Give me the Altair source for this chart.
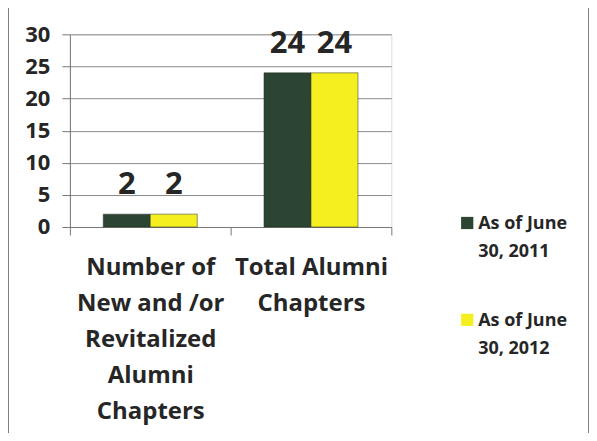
import altair as alt
import pandas as pd

categories = ["Number of|New and /or|Revitalized|Alumni|Chapters", "Total Alumni|Chapters"]
series = ["As of June|30, 2011", "As of  June|30, 2012"]
values_2011 = [2, 24]
values_2012 = [2, 24]
colors = ["#2c4533", "#f5ef1f"]

rows = []
for c, v1, v2 in zip(categories, values_2011, values_2012):
    rows.append({"category": c, "series": series[0], "value": v1})
    rows.append({"category": c, "series": series[1], "value": v2})
df = pd.DataFrame(rows)
leg_df = pd.DataFrame({"series": series})

FONT = "Open Sans"
TXT = "#262626"

x = alt.X("category:N", sort=categories, title=None,
          scale=alt.Scale(paddingInner=0, paddingOuter=0),
          axis=alt.Axis(labelExpr="split(datum.label, '|')", labelAngle=0,
                        labelFontSize=24, labelFont=FONT, labelFontWeight="bold",
                        labelColor=TXT, labelLineHeight=36, labelPadding=21,
                        labelLimit=400, tickBand="extent", tickSize=8,
                        tickColor="#777", domainColor="#777", grid=False))
xo = alt.XOffset("series:N", sort=series, scale=alt.Scale(paddingOuter=0.71, paddingInner=0))
y = alt.Y("value:Q", title=None,
          scale=alt.Scale(domain=[0, 30]),
          axis=alt.Axis(values=[0, 5, 10, 15, 20, 25, 30], labelFontSize=22,
                        labelFont=FONT, labelFontWeight="bold", labelColor=TXT,
                        labelPadding=12, tickSize=8, tickColor="#777",
                        domainColor="#777", gridColor="#8a8a8a", gridWidth=1))
color = alt.Color("series:N", sort=series, legend=None,
                  scale=alt.Scale(domain=series, range=colors))

bars = alt.Chart(df).mark_bar(stroke="#1e2a20", strokeWidth=0.5).encode(
    x=x, xOffset=xo, y=y, color=color)

labels = alt.Chart(df).mark_text(baseline="alphabetic", dy=-20, fontSize=31,
                                 font=FONT, fontWeight="bold", color=TXT).encode(
    x=x, xOffset=xo, y=y, text="value:Q")

ly = alt.Y("series:N", sort=series, axis=None,
           scale=alt.Scale(type="point", range=[189, 286], padding=0))
leg_sym = alt.Chart(leg_df).mark_square(size=150, opacity=1).encode(
    x=alt.value(398), y=ly, color=color)
leg_txt = alt.Chart(leg_df).mark_text(align="left", baseline="alphabetic", lineBreak="|",
                                      lineHeight=28, fontSize=18, font=FONT,
                                      fontWeight="bold", color=TXT, dy=6).encode(
    x=alt.value(409), y=ly, text="series:N")

border_df = pd.DataFrame({"b": [1]})
border = alt.Chart(border_df).mark_rect(fillOpacity=0, stroke="#555", strokeWidth=1.5).encode(
    x=alt.value(-62), x2=alt.value(520), y=alt.value(-27), y2=alt.value(402))

main = alt.layer(bars, labels)
legend = alt.layer(leg_sym, leg_txt)

chart = alt.layer(main, legend, border).resolve_scale(y="independent").properties(
    width=322, height=193,
    autosize=alt.AutoSizeParams(type="none"),
    padding={"left": 62, "top": 26, "right": 198, "bottom": 206},
).configure_view(stroke=None).configure(background="white")

chart.save("out.html", embed_options={"renderer": "svg", "actions": False})
